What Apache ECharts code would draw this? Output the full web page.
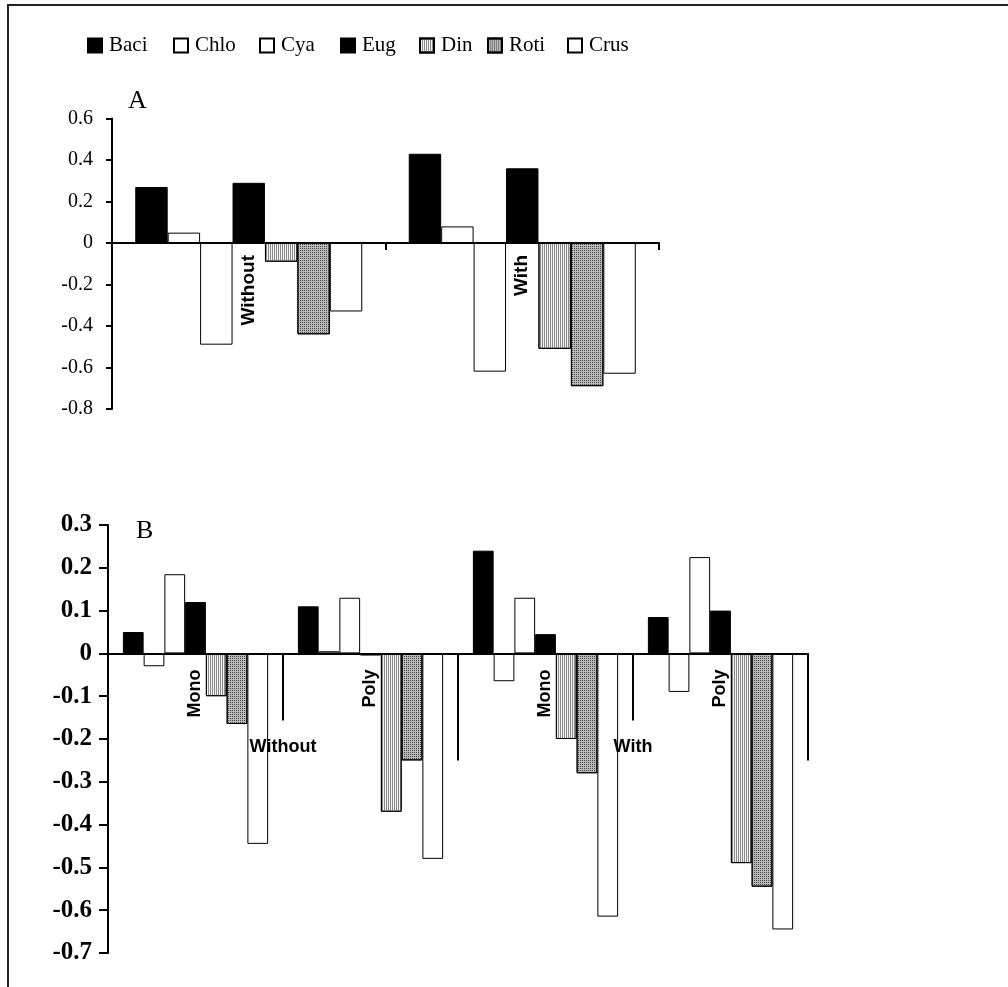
<!DOCTYPE html>
<html><head><meta charset="utf-8">
<script src="https://cdn.jsdelivr.net/npm/echarts@6/dist/echarts.min.js"></script>
<style>html,body{margin:0;padding:0;background:#fff}#c{width:1008px;height:987px}</style>
</head><body><div id="c"></div>
<script>
// ---- data ----
const seriesNames = ['Baci', 'Chlo', 'Cya', 'Eug', 'Din', 'Roti', 'Crus'];

// Panel A
const aCategories = ['Without', 'With'];
const aTicks = [-0.8, -0.6, -0.4, -0.2, 0, 0.2, 0.4, 0.6];
const aBaci = [0.27, 0.43];
const aChlo = [0.05, 0.08];
const aCya  = [-0.49, -0.62];
const aEug  = [0.29, 0.36];
const aDin  = [-0.09, -0.51];
const aRoti = [-0.44, -0.69];
const aCrus = [-0.33, -0.63];

// Panel B
const bCategories = ['Mono', 'Poly', 'Mono', 'Poly'];
const bGroups = ['Without', 'With'];
const bTicks = [-0.7, -0.6, -0.5, -0.4, -0.3, -0.2, -0.1, 0, 0.1, 0.2, 0.3];
const bBaci = [0.05, 0.11, 0.24, 0.085];
const bChlo = [-0.03, 0.005, -0.065, -0.09];
const bCya  = [0.185, 0.13, 0.13, 0.225];
const bEug  = [0.12, -0.005, 0.045, 0.10];
const bDin  = [-0.10, -0.37, -0.20, -0.49];
const bRoti = [-0.165, -0.25, -0.28, -0.545];
const bCrus = [-0.445, -0.48, -0.615, -0.645];

const aData = { Baci: aBaci, Chlo: aChlo, Cya: aCya, Eug: aEug, Din: aDin, Roti: aRoti, Crus: aCrus };
const bData = { Baci: bBaci, Chlo: bChlo, Cya: bCya, Eug: bEug, Din: bDin, Roti: bRoti, Crus: bCrus };

// ---- layout ----
const gridA = { left: 112, top: 118.5, width: 547, height: 290.5 };
const gridB = { left: 108, top: 525, width: 700, height: 428 };
const aMin = aTicks[0], aMax = aTicks[aTicks.length - 1];
const bMin = bTicks[0], bMax = bTicks[bTicks.length - 1];
// shift the category axes up from the grid bottom to the value 0
const aZeroOffset = -gridA.height * (0 - aMin) / (aMax - aMin);
const bZeroOffset = -gridB.height * (0 - bMin) / (bMax - bMin);

// ---- styles ----
const dinDecal = { symbol: 'rect', symbolSize: 1, dashArrayX: [1, 1], dashArrayY: [6, 0], color: '#8a8a8a', backgroundColor: null };
const rotiDecal = { symbol: 'rect', symbolSize: 1, dashArrayX: [1, 1], dashArrayY: [1, 1], color: '#4a4a4a', backgroundColor: null };
const styles = {
  Baci: { color: '#000000' },
  Chlo: { color: '#ffffff' },
  Cya:  { color: '#ffffff' },
  Eug:  { color: '#000000' },
  Din:  { color: '#f2f2f2', decal: dinDecal },
  Roti: { color: '#b8b8b8', decal: rotiDecal },
  Crus: { color: '#ffffff' }
};
function itemStyle(name) {
  return Object.assign({ borderColor: '#000', borderWidth: 1 }, styles[name]);
}

const series = [];
seriesNames.forEach(function (n) {
  series.push({ name: n, type: 'bar', xAxisIndex: 0, yAxisIndex: 0, data: aData[n],
    barGap: '0%', barCategoryGap: '17%', itemStyle: itemStyle(n), emphasis: { disabled: true } });
});
seriesNames.forEach(function (n) {
  series.push({ name: n, type: 'bar', xAxisIndex: 1, yAxisIndex: 1, data: bData[n],
    barGap: '0%', barCategoryGap: '17%', itemStyle: itemStyle(n), emphasis: { disabled: true } });
});

const legendLeft = [87, 173, 259, 340, 419, 487, 567];
const legends = seriesNames.map(function (n, i) {
  return { data: [n], left: legendLeft[i], top: 35, icon: 'rect', itemWidth: 14, itemHeight: 14,
    padding: 0, itemGap: 0, selectedMode: false,
    textStyle: { fontFamily: 'Liberation Serif', fontSize: 21, color: '#000', padding: [0, 0, 0, 2] } };
});

const axisLineStyle = { color: '#000', width: 2 };

const option = {
  animation: false,
  backgroundColor: '#ffffff',
  legend: legends,
  title: [
    { text: 'A', left: 128, top: 88, padding: 0, textStyle: { fontFamily: 'Liberation Serif', fontSize: 26, fontWeight: 'normal', color: '#000' } },
    { text: 'B', left: 136, top: 518, padding: 0, textStyle: { fontFamily: 'Liberation Serif', fontSize: 26, fontWeight: 'normal', color: '#000' } }
  ],
  grid: [
    gridA,
    gridB,
    Object.assign({}, gridB)
  ],
  xAxis: [
    { type: 'category', gridIndex: 0, data: aCategories, position: 'bottom', offset: aZeroOffset,
      axisLine: { onZero: false, lineStyle: axisLineStyle },
      axisTick: { show: true, length: 7, lineStyle: axisLineStyle },
      axisLabel: { interval: 0, rotate: 90, margin: 12, fontFamily: 'Liberation Sans', fontWeight: 'bold', fontSize: 19, color: '#000' },
      z: 5 },
    { type: 'category', gridIndex: 1, data: bCategories, position: 'bottom', offset: bZeroOffset,
      axisLine: { onZero: false, lineStyle: axisLineStyle },
      axisTick: { show: true, length: 67, lineStyle: axisLineStyle },
      axisLabel: { interval: 0, rotate: 90, margin: 16, fontFamily: 'Liberation Sans', fontWeight: 'bold', fontSize: 18, color: '#000' },
      z: 5 },
    { type: 'category', gridIndex: 2, data: bGroups, position: 'bottom', offset: bZeroOffset,
      axisLine: { show: false, onZero: false },
      axisTick: { show: true, length: 107, lineStyle: axisLineStyle },
      axisLabel: { interval: 0, margin: 85, fontFamily: 'Liberation Sans', fontWeight: 'bold', fontSize: 18, color: '#000' },
      z: 6 }
  ],
  yAxis: [
    { type: 'value', gridIndex: 0, min: aMin, max: aMax, interval: 0.2,
      splitLine: { show: false },
      axisLine: { show: true, lineStyle: axisLineStyle },
      axisTick: { show: true, length: 6, lineStyle: axisLineStyle },
      axisLabel: { margin: 19, fontFamily: 'Liberation Serif', fontSize: 20, color: '#000' } },
    { type: 'value', gridIndex: 1, min: bMin, max: bMax, interval: 0.1,
      splitLine: { show: false },
      axisLine: { show: true, lineStyle: axisLineStyle },
      axisTick: { show: true, length: 9, lineStyle: axisLineStyle },
      axisLabel: { margin: 16, fontFamily: 'Liberation Serif', fontWeight: 'bold', fontSize: 25, color: '#000' } },
    { type: 'value', gridIndex: 2, min: bMin, max: bMax, interval: 0.1, show: false }
  ],
  graphic: [
    { type: 'rect', shape: { x: 8, y: 5, width: 1100, height: 1100 }, style: { fill: null, stroke: '#222', lineWidth: 2 }, silent: true }
  ],
  series: series
};

const chart = echarts.init(document.getElementById('c'), null, { renderer: 'canvas' });
chart.setOption(option);
</script>
</body></html>
